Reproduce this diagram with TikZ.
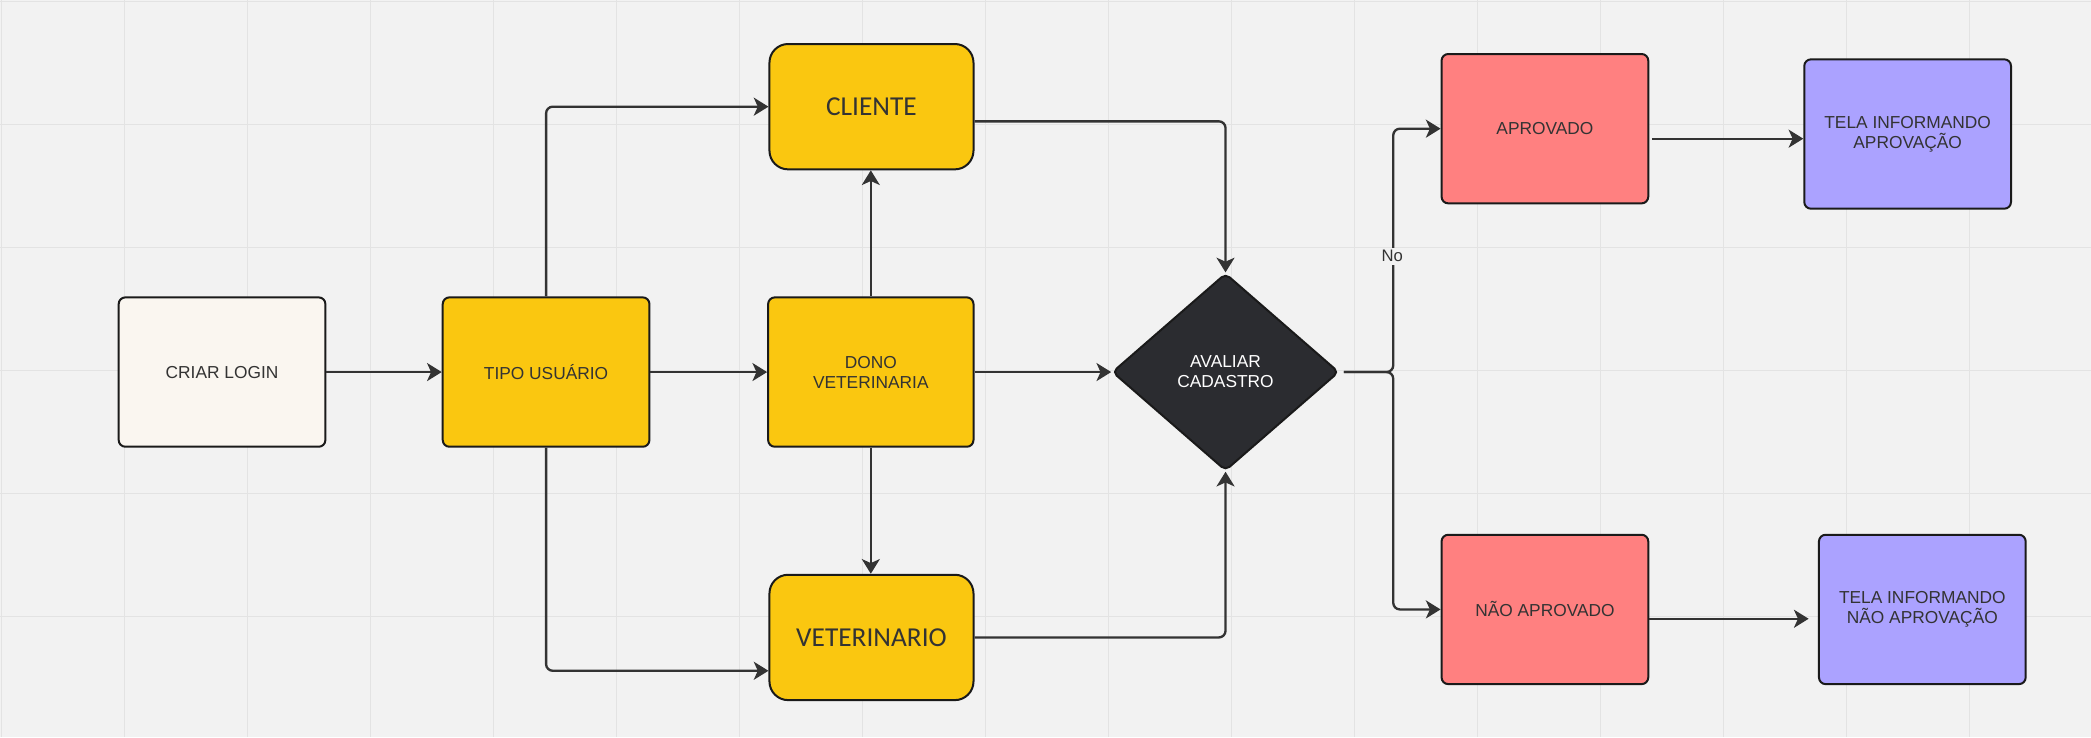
\documentclass[tikz,border=0pt]{standalone}
\usepackage{fontspec}
\setmainfont{Liberation Sans}
\newfontfamily\bigfont{Carlito}
\usetikzlibrary{arrows.meta,shapes.geometric,calc}
\definecolor{bg}{HTML}{F2F2F2}
\definecolor{gridc}{HTML}{E3E3E3}
\definecolor{cream}{HTML}{FAF6F0}
\definecolor{yel}{HTML}{FAC710}
\definecolor{redc}{HTML}{FF8080}
\definecolor{purp}{HTML}{ABA2FF}
\definecolor{dark}{HTML}{2B2C30}
\definecolor{edgec}{HTML}{1A1A1A}
\definecolor{linec}{HTML}{333333}
\definecolor{txt}{HTML}{333333}
\begin{document}
\begin{tikzpicture}[x=1pt,y=-1pt,
 box/.style={draw=edgec, line width=1.5pt, rounded corners=5pt, minimum width=155pt, minimum height=112pt, inner sep=0pt, align=center, text=txt, font=\fontsize{13}{15}\selectfont},
 bigbox/.style={box, rounded corners=14pt, minimum width=153pt, minimum height=94pt, font=\bigfont\fontsize{20.5}{24}\selectfont},
 arr/.style={draw=linec, line width=1.75pt, rounded corners=5pt, -{Stealth[length=11pt,width=13.5pt,inset=3pt]}},
 lbl/.style={fill=bg, text=txt, font=\fontsize{12.5}{14}\selectfont, inner sep=2pt}
]
\fill[bg] (0,0) rectangle (1568,553);
\useasboundingbox (0,0) rectangle (1568,553);
\foreach \i in {0,...,17} \draw[gridc, line width=0.8pt] (1+92.22*\i,0) -- (1+92.22*\i,553);
\foreach \j in {0,...,6} \draw[gridc, line width=0.8pt] (0,1+92.22*\j) -- (1568,1+92.22*\j);

\node[box, fill=cream] (login) at (166.5,279) {CRIAR LOGIN};
\node[box, fill=yel] (tipo) at (409.5,279) {TIPO USUÁRIO};
\node[bigbox, fill=yel] (cli) at (653.5,80) {CLIENTE};
\node[box, fill=yel, minimum width=154pt] (dono) at (653,279) {DONO\\VETERINARIA};
\node[bigbox, fill=yel] (vet) at (653.5,478) {VETERINARIO};
\node[diamond, draw=edgec, fill=dark, line width=1.5pt, rounded corners=4pt, minimum width=170pt, minimum height=148pt, inner sep=0pt, align=center, text=white, font=\fontsize{13}{15}\selectfont] (dia) at (919,279) {AVALIAR\\CADASTRO};
\node[box, fill=redc] (apr) at (1158.5,96.5) {APROVADO};
\node[box, fill=redc] (nao) at (1158.5,457) {NÃO APROVADO};
\node[box, fill=purp] (t1) at (1430.5,100.5) {TELA INFORMANDO\\APROVAÇÃO};
\node[box, fill=purp] (t2) at (1441.5,457) {TELA INFORMANDO\\NÃO APROVAÇÃO};

\draw[arr] (login) -- (tipo);
\draw[arr] (tipo.north) |- (cli.west);
\draw[arr] (tipo) -- (dono);
\draw[arr] (tipo.south) |- ([yshift=-25pt]vet.west);
\draw[arr] (dono.north) -- (dono.north |- cli.south);
\draw[arr] (dono.south) -- (dono.south |- vet.north);
\draw[arr] ([yshift=-11pt]cli.east) -| (dia.north);
\draw[arr] (dono) -- (dia);
\draw[arr] (vet.east) -| (dia.south);
\coordinate (d0) at ([xshift=3pt]dia.east);
\draw[arr] (d0) -- ++(37,0) |- (apr.west);
\draw[arr] (d0) -- ++(37,0) |- (nao.west);
\node[lbl] (no) at (1044,192) {No};
\coordinate (a1) at ([xshift=2pt,yshift=-7.5pt]apr.east);
\coordinate (a1e) at (a1 -| t1.west);
\draw[arr] (a1) -- (a1e);
\coordinate (a2) at ([yshift=-7pt]nao.east);
\coordinate (a2e) at (a2 -| t2.west);
\draw[arr] (a2) -- ([xshift=-7pt]a2e);
\end{tikzpicture}
\end{document}
